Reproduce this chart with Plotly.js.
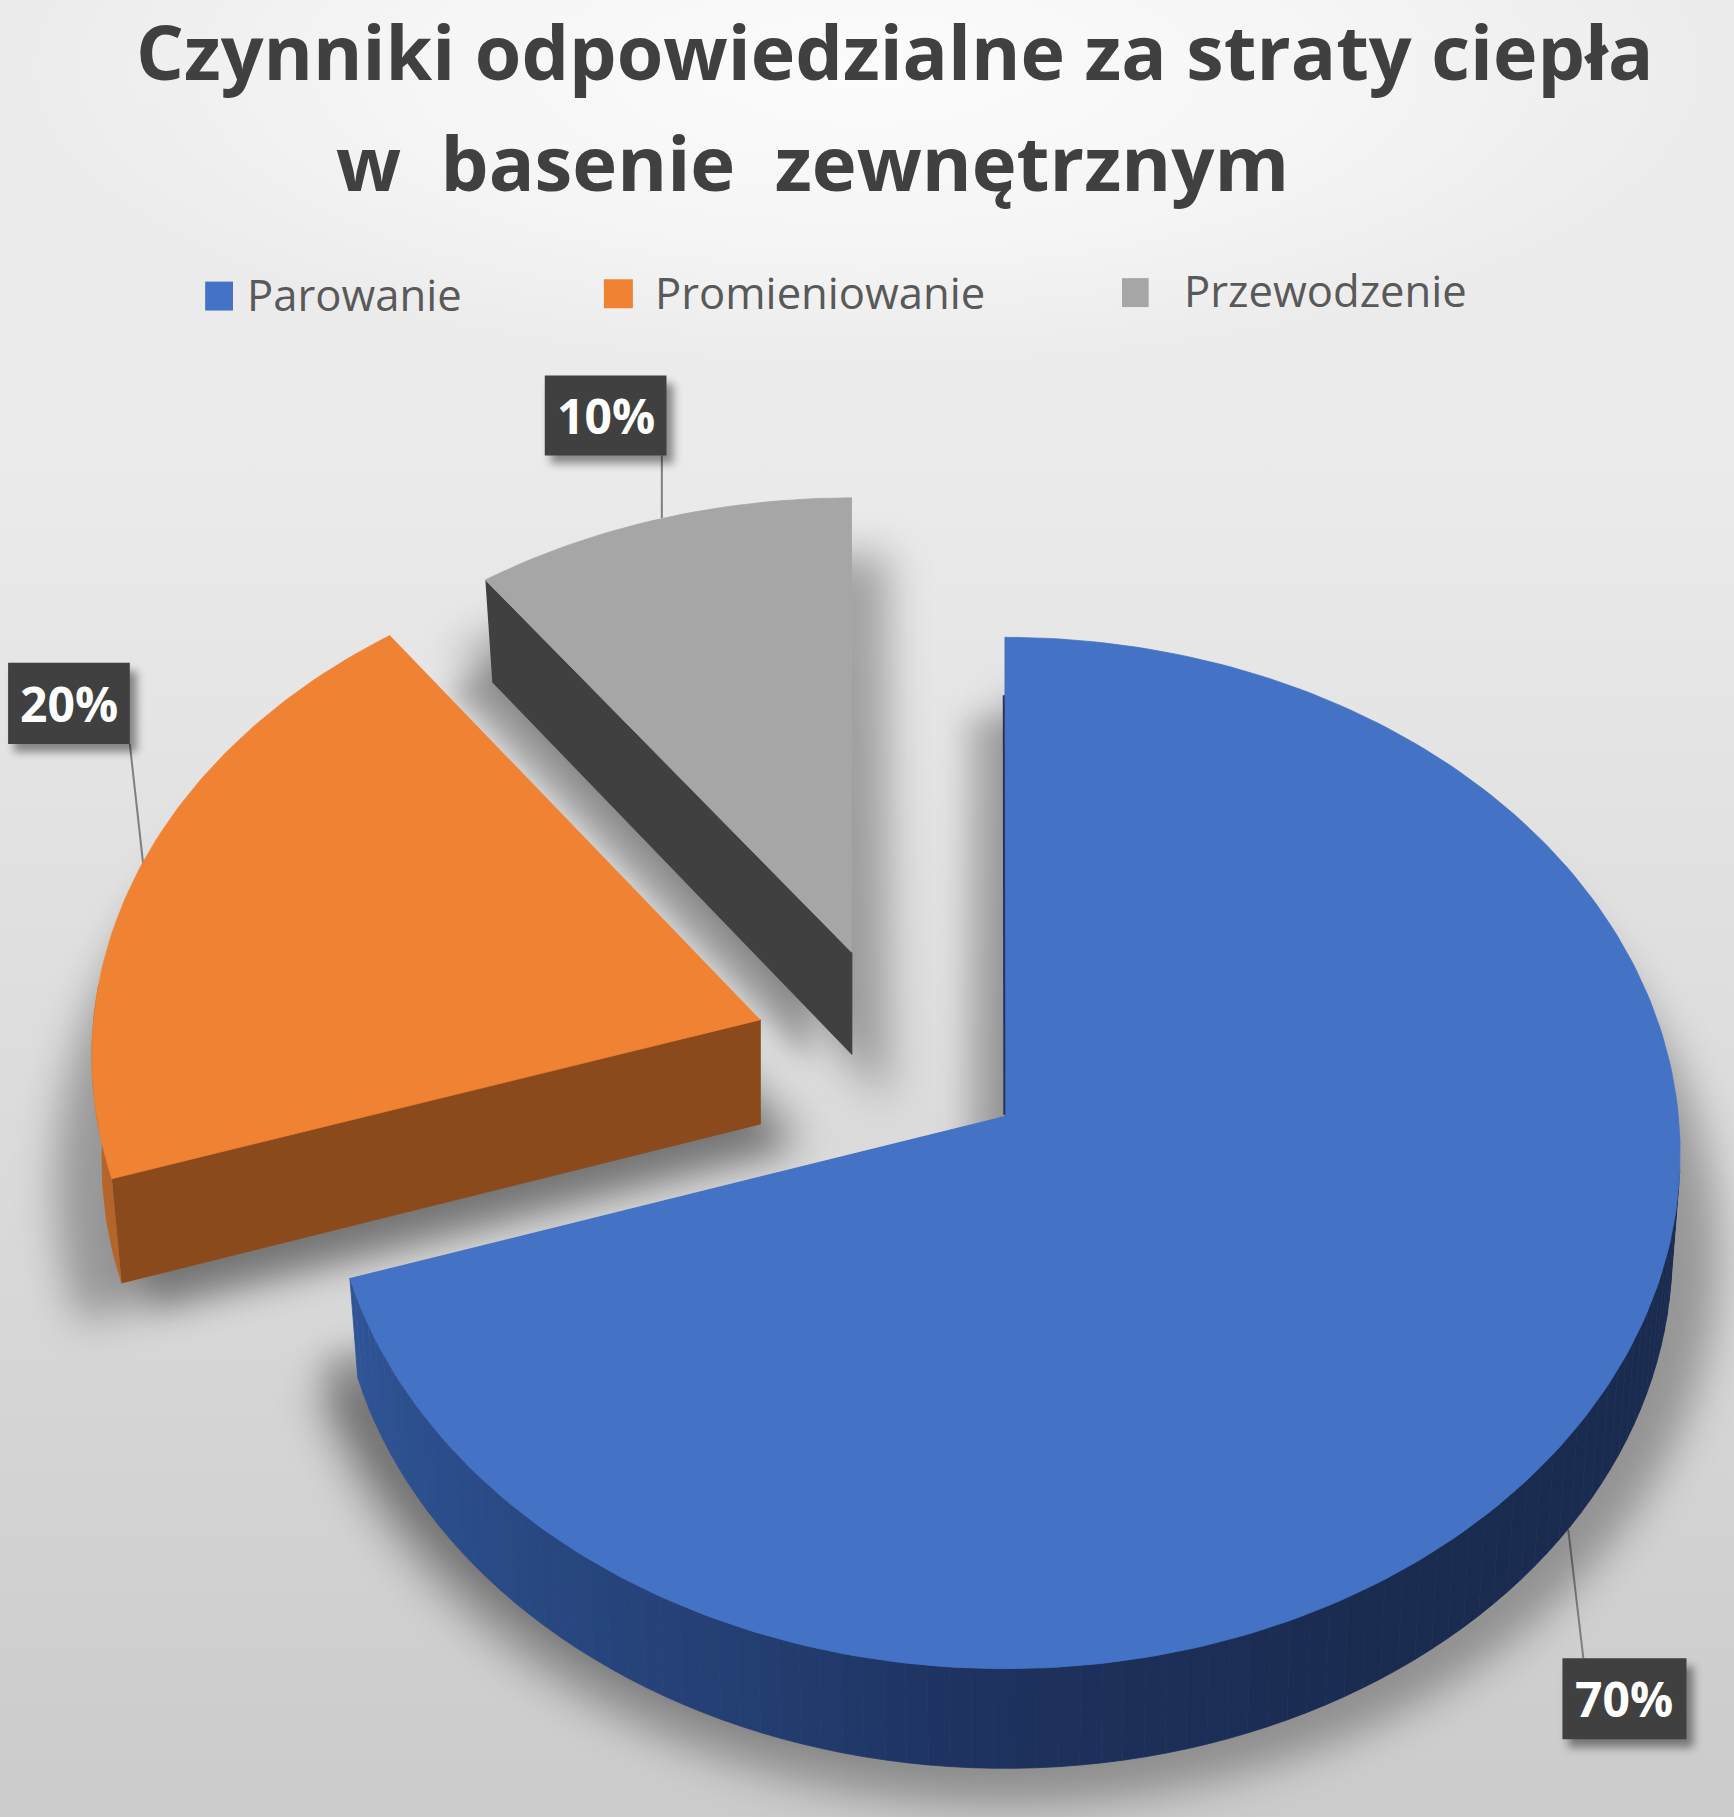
<!DOCTYPE html>
<html><head><meta charset="utf-8">
<script src="https://cdn.plot.ly/plotly-3.0.1.min.js"></script>
<style>
html,body{margin:0;padding:0;background:#d8d8d8}
#bg{position:absolute;left:0;top:0;width:1734px;height:1817px;
background:radial-gradient(ellipse 850px 300px at 50% 4%,rgba(255,255,255,.85) 0%,rgba(255,255,255,.5) 55%,rgba(255,255,255,0) 100%),
linear-gradient(180deg,#ececec 0%,#ebebeb 25%,#e0e0e0 50%,#d6d6d6 75%,#cbcbcb 100%)}
#chart{position:absolute;left:0;top:0;width:1734px;height:1817px}
</style></head><body><div id="bg"></div><div id="chart"></div>
<script>
// ---- chart data ----
const categories = ["Parowanie","Promieniowanie","Przewodzenie"];
const values = [70,20,10];
const percentLabels = ["70%","20%","10%"];
const topColors = ["#4472c4","#f08234","#a6a6a6"];
const edgeColors = ["#2f5597","#8a4a1c","#404040"];
const titleLine1 = "Czynniki odpowiedzialne za straty ciepła";
const titleLine2 = "w  basenie  zewnętrznym";

// ---- drawing geometry (axis units) ----
const W=1496,H=1568;
const A=581,B=442.7,K=0.0719;
const geometry=[
 {ax:867,ay:963,sx:1,   sy:1,   depth:86,shrink:.988,grow:1.07},
 {ax:656,ay:880,sx:.99, sy:.98, depth:90,shrink:.985,grow:1.14},
 {ax:735,ay:822,sx:.98, sy:.95, depth:88,shrink:.981,grow:1.2}
];
const total=values.reduce((a,b)=>a+b,0);
let cum=0;
const spans=values.map(v=>{const s=[cum/total*360,(cum+v)/total*360];cum+=v;return s;});

function rim(g,deg){
  const t=deg*Math.PI/180,u=Math.sin(t),v=Math.cos(t),w=1+K*v;
  return [g.ax+g.sx*A*u/w, g.ay-g.sy*B*v/w];
}
function down(g,p){return [g.ax+(p[0]-g.ax)*g.shrink, p[1]+g.depth];}
function arc(g,a0,a1,step){
  const pts=[],n=Math.max(2,Math.ceil(Math.abs(a1-a0)/(step||1)));
  for(let i=0;i<=n;i++)pts.push(rim(g,a0+(a1-a0)*i/n));
  return pts;
}
function poly(pts,color,extra){
  return Object.assign({x:pts.map(p=>p[0]),y:pts.map(p=>p[1]),type:"scatter",mode:"lines",
    fill:"toself",fillcolor:color,line:{color:color,width:0.8},showlegend:false,hoverinfo:"skip"},extra||{});
}
function mix(c1,c2,f){
  const h=c=>[1,3,5].map(i=>parseInt(c.substr(i,2),16));
  const a=h(c1),b=h(c2);
  return "rgb("+a.map((x,i)=>Math.round(x+(b[i]-x)*f)).join(",")+")";
}
function grown(pts,f){
  const xs=pts.map(p=>p[0]),ys=pts.map(p=>p[1]);
  const cx=(Math.min(...xs)+Math.max(...xs))/2,cy=(Math.min(...ys)+Math.max(...ys))/2;
  return pts.map(p=>[cx+(p[0]-cx)*f,cy+(p[1]-cy)*f]);
}
const labelBoxes=[[1348,1431,1455,1501],[7,572,112,642],[470,324,575,393]];
const traces=[],blur=[];
const shadowStyle={line:{width:0}};
// soft shadows: bottom faces, blurred after plotting
[2,1,0].forEach(i=>{
  const g=geometry[i];
  const base=[[g.ax,g.ay]].concat(arc(g,spans[i][0],spans[i][1])).map(p=>down(g,p));
  traces.push(poly(grown(base,g.grow),"rgba(0,0,0,0.3)",shadowStyle));blur.push(20);
  if(i===0){traces.push(poly(base.map(p=>[p[0]-34,p[1]-18]),"rgba(0,0,0,0.2)",shadowStyle));blur.push(14);}
  if(i===1){traces.push(poly(base.map(p=>[p[0]+26,p[1]+24]),"rgba(0,0,0,0.24)",shadowStyle));blur.push(16);}
  if(i===2){traces.push(poly(base.map(p=>[p[0]-38,p[1]+6]),"rgba(0,0,0,0.24)",shadowStyle));blur.push(12);}
});
labelBoxes.forEach(l=>{
  traces.push(poly([[l[0]+5,l[1]+7],[l[2]+6,l[1]+7],[l[2]+6,l[3]+7],[l[0]+5,l[3]+7]],"rgba(0,0,0,0.42)",shadowStyle));blur.push(4);
});
const shadowCount=traces.length;
// grey and orange slices: cut face, outer face, top
[2,1].forEach(i=>{
  const g=geometry[i],end=rim(g,spans[i][0]),ap=[g.ax,g.ay];
  if(i===1){
    const outer=arc(g,spans[i][0],spans[i][0]+22);
    traces.push(poly(outer.concat(outer.slice().reverse().map(p=>down(g,p))),"#b5652a"));
  }
  traces.push(poly([end,ap,down(g,ap),down(g,end)],edgeColors[i]));
  traces.push(poly([ap].concat(arc(g,spans[i][0],spans[i][1])),topColors[i],
    {name:categories[i],hoverinfo:"name",hoveron:"fills"}));
});
// blue slice: shaded outer wall built of narrow strips
{
  const g=geometry[0],s=spans[0],from=96,to=s[1],n=90;
  for(let k=0;k<n;k++){
    const a0=from+(to-from)*k/n,a1=from+(to-from)*(k+1)/n;
    const top=arc(g,a0,a1,1);
    const mid=(a0+a1)/2;
    const col=mid<185?mix("#1a2b50","#1e3360",Math.max(0,(mid-150)/35))
                     :mix("#1e3360",edgeColors[0],Math.pow((mid-185)/(to-185),.8));
    traces.push(poly(top.concat(top.slice().reverse().map(p=>down(g,p))),col));
  }
  const ap=[g.ax,g.ay];
  traces.push(poly([ap].concat(arc(g,s[0],s[1])),topColors[0],
    {name:categories[0],hoverinfo:"name",hoveron:"fills"}));
}

// ---- layout items ----
const legendBoxes=[[177,243,201,268],[521,241,546,266],[968,240,991,265]];
const legendText=[[211,254],[563,252],[1020,250]];
const leaders=[[1353,1320,1366,1431],[112,642,124,750],[571,393,571,447]];
const shapes=[],annotations=[];
categories.forEach((c,i)=>{
  const b=legendBoxes[i],t=legendText[i];
  shapes.push({type:"rect",xref:"x",yref:"y",x0:b[0],y0:b[1],x1:b[2],y1:b[3],fillcolor:topColors[i],line:{width:0},layer:"above"});
  annotations.push({xref:"x",yref:"y",x:t[0],y:t[1],xanchor:"left",yanchor:"middle",showarrow:false,text:c,
    font:{family:"Open Sans",size:43.6,color:"#595959"}});
  const l=labelBoxes[i],k=leaders[i];
  shapes.push({type:"line",xref:"x",yref:"y",x0:k[0],y0:k[1],x1:k[2],y1:k[3],line:{color:"#7f7f7f",width:2},layer:"below"});
  shapes.push({type:"rect",xref:"x",yref:"y",x0:l[0],y0:l[1],x1:l[2],y1:l[3],fillcolor:"#404040",line:{width:0},layer:"above"});
  annotations.push({xref:"x",yref:"y",x:(l[0]+l[2])/2,y:(l[1]+l[3])/2,xanchor:"center",yanchor:"middle",showarrow:false,
    text:percentLabels[i],font:{family:"Open Sans",size:48,color:"#ffffff",weight:700}});
});
// dark inner edge of the large slice
shapes.push({type:"line",xref:"x",yref:"y",x0:866,y0:600,x1:866.5,y1:962,line:{color:"#1f3560",width:2},layer:"above"});
annotations.push({xref:"x",yref:"y",x:701,y:139,xanchor:"center",yanchor:"middle",showarrow:false,
  text:titleLine2,font:{family:"Open Sans",size:76,color:"#404040",weight:700}});

const layout={
  width:1734,height:1817,margin:{l:0,r:0,t:0,b:0},
  paper_bgcolor:"rgba(0,0,0,0)",plot_bgcolor:"rgba(0,0,0,0)",
  showlegend:false,
  title:{text:titleLine1,x:772/W,xref:"paper",xanchor:"center",y:1-46/H,yref:"paper",yanchor:"middle",
    font:{family:"Open Sans",size:75.3,color:"#404040",weight:700}},
  xaxis:{range:[0,W],visible:false,fixedrange:true},
  yaxis:{range:[H,0],visible:false,fixedrange:true},
  shapes,annotations
};
Plotly.newPlot("chart",traces,layout,{displayModeBar:false}).then(gd=>{
  const groups=gd.querySelectorAll(".scatterlayer .trace");
  for(let i=0;i<shadowCount;i++)groups[i].style.filter="blur("+blur[i]+"px)";
});
</script></body></html>
